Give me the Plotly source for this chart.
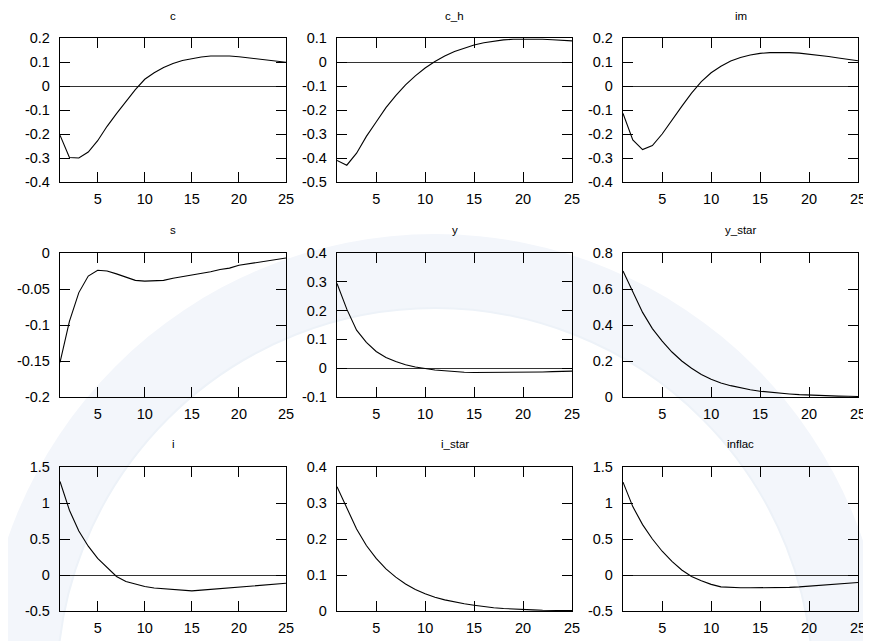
import plotly.graph_objects as go

# ---------------- data ----------------
periods = list(range(1, 26))

c = [-0.205, -0.298, -0.300, -0.275, -0.228, -0.168, -0.115, -0.063, -0.015, 0.028,
     0.055, 0.077, 0.094, 0.106, 0.115, 0.121, 0.125, 0.126, 0.125, 0.122,
     0.118, 0.113, 0.108, 0.103, 0.099]
c_h = [-0.41, -0.43, -0.38, -0.31, -0.25, -0.19, -0.14, -0.095, -0.058, -0.025,
       0.002, 0.025, 0.044, 0.059, 0.071, 0.080, 0.087, 0.092, 0.095, 0.096,
       0.096, 0.095, 0.093, 0.091, 0.088]
im = [-0.114, -0.225, -0.265, -0.248, -0.200, -0.140, -0.085, -0.030, 0.018, 0.055,
      0.082, 0.104, 0.119, 0.129, 0.136, 0.139, 0.140, 0.139, 0.137, 0.133,
      0.128, 0.123, 0.117, 0.111, 0.105]
s = [-0.152, -0.095, -0.055, -0.032, -0.024, -0.025, -0.029, -0.034, -0.038, -0.039,
     -0.039, -0.038, -0.035, -0.033, -0.030, -0.028, -0.026, -0.023, -0.021, -0.017,
     -0.015, -0.013, -0.011, -0.009, -0.007]
y = [0.294, 0.205, 0.132, 0.090, 0.058, 0.037, 0.023, 0.012, 0.004, -0.002,
     -0.006, -0.009, -0.012, -0.014, -0.015, -0.015, -0.015, -0.015, -0.015, -0.015,
     -0.014, -0.013, -0.012, -0.011, -0.010]
y_star = [0.700, 0.580, 0.470, 0.380, 0.310, 0.250, 0.200, 0.160, 0.125, 0.098,
          0.078, 0.063, 0.050, 0.040, 0.032, 0.026, 0.021, 0.017, 0.013, 0.010,
          0.008, 0.006, 0.005, 0.004, 0.003]
i = [1.30, 0.90, 0.61, 0.40, 0.23, 0.10, -0.02, -0.09, -0.13, -0.16,
     -0.18, -0.19, -0.20, -0.215, -0.22, -0.21, -0.20, -0.19, -0.18, -0.165,
     -0.155, -0.145, -0.135, -0.125, -0.115]
i_star = [0.345, 0.285, 0.228, 0.182, 0.146, 0.117, 0.094, 0.075, 0.060, 0.048,
          0.038, 0.031, 0.025, 0.020, 0.016, 0.012, 0.009, 0.007, 0.005, 0.004,
          0.003, 0.002, 0.002, 0.001, 0.001]
inflac = [1.29, 0.95, 0.70, 0.50, 0.33, 0.19, 0.07, -0.02, -0.08, -0.13,
          -0.165, -0.175, -0.178, -0.178, -0.178, -0.177, -0.175, -0.172, -0.165, -0.155,
          -0.148, -0.140, -0.130, -0.118, -0.105]

titles = ["c", "c_h", "im", "s", "y", "y_star", "i", "i_star", "inflac"]
series = [c, c_h, im, s, y, y_star, i, i_star, inflac]

x_tickvals = [5, 10, 15, 20, 25]
x_ticktext = ["5", "10", "15", "20", "25"]

ticks_c = [-0.4, -0.3, -0.2, -0.1, 0, 0.1, 0.2]
labels_c = ["-0.4", "-0.3", "-0.2", "-0.1", "0", "0.1", "0.2"]
ticks_c_h = [-0.5, -0.4, -0.3, -0.2, -0.1, 0, 0.1]
labels_c_h = ["-0.5", "-0.4", "-0.3", "-0.2", "-0.1", "0", "0.1"]
ticks_im = [-0.4, -0.3, -0.2, -0.1, 0, 0.1, 0.2]
labels_im = ["-0.4", "-0.3", "-0.2", "-0.1", "0", "0.1", "0.2"]
ticks_s = [-0.2, -0.15, -0.1, -0.05, 0]
labels_s = ["-0.2", "-0.15", "-0.1", "-0.05", "0"]
ticks_y = [-0.1, 0, 0.1, 0.2, 0.3, 0.4]
labels_y = ["-0.1", "0", "0.1", "0.2", "0.3", "0.4"]
ticks_y_star = [0, 0.2, 0.4, 0.6, 0.8]
labels_y_star = ["0", "0.2", "0.4", "0.6", "0.8"]
ticks_i = [-0.5, 0, 0.5, 1, 1.5]
labels_i = ["-0.5", "0", "0.5", "1", "1.5"]
ticks_i_star = [0, 0.1, 0.2, 0.3, 0.4]
labels_i_star = ["0", "0.1", "0.2", "0.3", "0.4"]
ticks_inflac = [-0.5, 0, 0.5, 1, 1.5]
labels_inflac = ["-0.5", "0", "0.5", "1", "1.5"]

y_ticks = [ticks_c, ticks_c_h, ticks_im, ticks_s, ticks_y, ticks_y_star,
           ticks_i, ticks_i_star, ticks_inflac]
y_labels = [labels_c, labels_c_h, labels_im, labels_s, labels_y, labels_y_star,
            labels_i, labels_i_star, labels_inflac]

# ---------------- layout geometry (window pixels) ----------------
WIN_W, WIN_H = 871, 641
OFF = 8                      # default page body margin
W, H = WIN_W - OFF, WIN_H - OFF
col_px = [(60, 286), (337, 572), (623, 858)]
row_px = [(38, 182), (253, 397), (467, 611)]
title_py = [16, 230, 444]


def px_x(p):
    return (p - OFF) / W


def px_y(p):
    return 1 - (p - OFF) / H


FONT = "Liberation Sans, Arial, sans-serif"

fig = go.Figure()
layout = dict(
    width=W, height=H,
    margin=dict(l=0, r=0, t=0, b=0, autoexpand=False),
    paper_bgcolor="white",
    plot_bgcolor="rgba(0,0,0,0)",
    showlegend=False,
    font=dict(family=FONT, size=14, color="black"),
)
annotations = []

for k in range(9):
    r, cidx = divmod(k, 3)
    n = k + 1
    xa = "x" if n == 1 else f"x{n}"
    ya = "y" if n == 1 else f"y{n}"
    x0p, x1p = col_px[cidx]
    t, b = row_px[r]
    xdom = [px_x(x0p), px_x(x1p)]
    ydom = [px_y(b), px_y(t)]
    yt = y_ticks[k]
    layout[f"xaxis{'' if n == 1 else n}"] = dict(
        domain=xdom, anchor=ya, range=[1, 25], automargin=False,
        tickvals=x_tickvals, ticktext=x_ticktext,
        ticks="inside", ticklen=10, tickwidth=1.3, tickcolor="black",
        showline=True, linecolor="black", linewidth=1.3, mirror="allticks",
        showgrid=False, zeroline=False, ticklabelstandoff=3,
        tickfont=dict(size=14.5, family=FONT, color="black"),
    )
    layout[f"yaxis{'' if n == 1 else n}"] = dict(
        domain=ydom, anchor=xa, range=[yt[0], yt[-1]], automargin=False,
        tickvals=yt, ticktext=y_labels[k],
        ticks="inside", ticklen=10, tickwidth=1.3, tickcolor="black",
        showline=True, linecolor="black", linewidth=1.3, mirror="allticks",
        showgrid=False, zeroline=True, zerolinecolor="#333333", zerolinewidth=1,
        ticklabelstandoff=6,
        tickfont=dict(size=14.5, family=FONT, color="black"),
    )
    fig.add_trace(go.Scatter(
        x=periods, y=series[k], mode="lines",
        line=dict(color="black", width=1.1),
        xaxis=xa, yaxis=ya, hoverinfo="skip",
    ))
    annotations.append(dict(
        text=titles[k], xref="paper", yref="paper",
        x=(xdom[0] + xdom[1]) / 2, y=px_y(title_py[r]),
        xanchor="center", yanchor="middle", showarrow=False,
        font=dict(size=11.5, family=FONT, color="black"),
    ))

# faint watermark ring (background decoration)
cx, cy, r_out, r_in = 435, 686, 452, 378
shapes = [
    dict(type="circle", xref="paper", yref="paper", layer="below",
         x0=px_x(cx - r_out), x1=px_x(cx + r_out),
         y0=px_y(cy + r_out), y1=px_y(cy - r_out),
         fillcolor="#f3f6fb", line=dict(width=0)),
    dict(type="circle", xref="paper", yref="paper", layer="below",
         x0=px_x(cx - r_in), x1=px_x(cx + r_in),
         y0=px_y(cy + r_in), y1=px_y(cy - r_in),
         fillcolor="white", line=dict(color="#edf2f8", width=2)),
]

layout["annotations"] = annotations
layout["shapes"] = shapes
fig.update_layout(**layout)

fig.write_html("out.html")
